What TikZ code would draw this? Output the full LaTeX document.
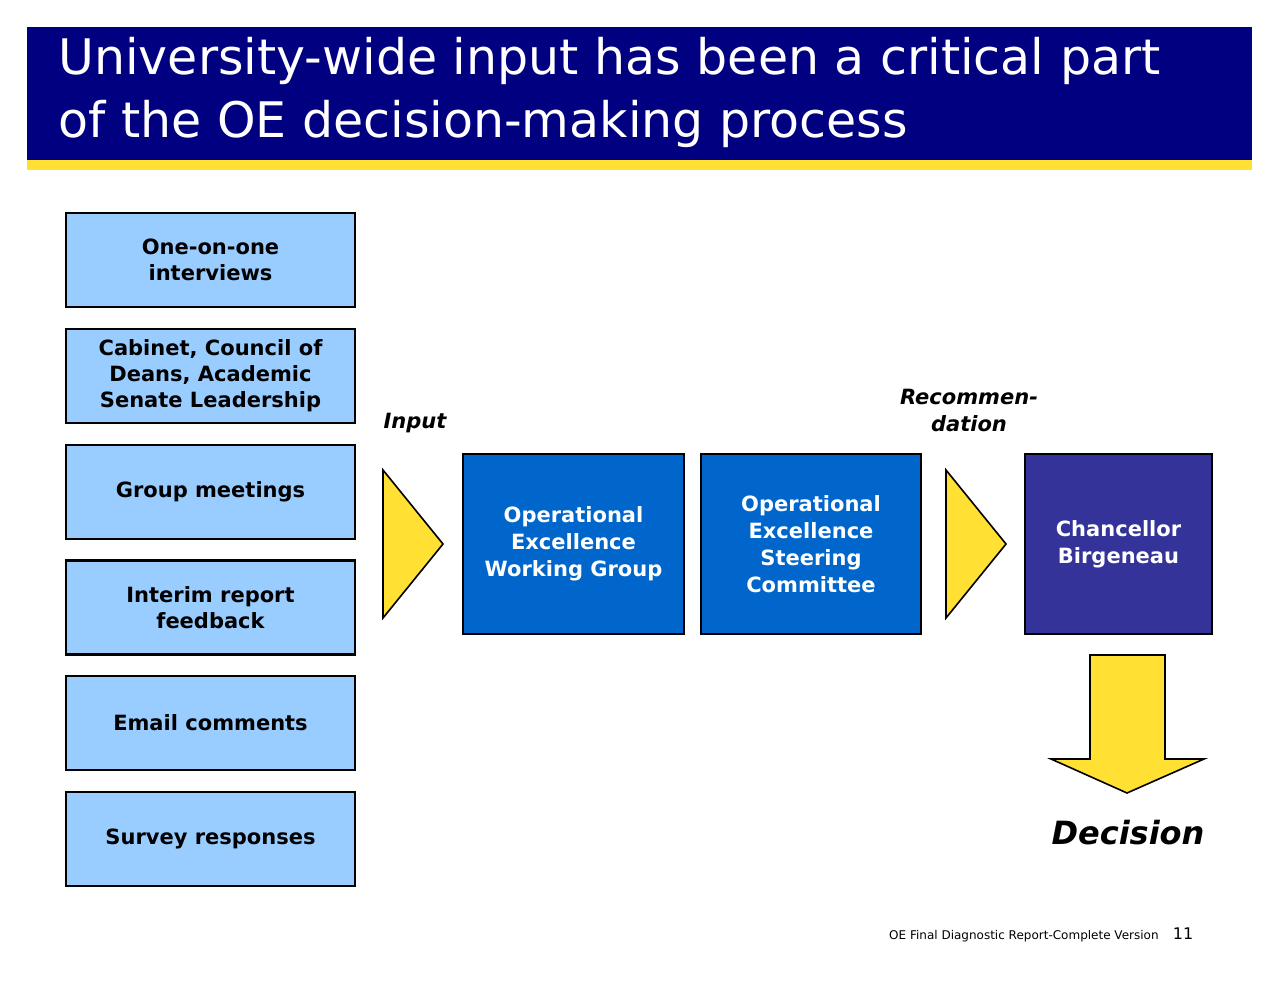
\documentclass[tikz,border=0pt]{standalone}
\usepackage{fontspec}
\setmainfont{DejaVu Sans}
\begin{document}
\begin{tikzpicture}[x=0.5pt,y=-0.5pt,
 lbox/.style={draw=black,line width=1.2pt,fill=lb,minimum width=144.5pt,minimum height=47pt,align=center,font=\fontsize{10.5}{13}\selectfont\bfseries,inner sep=0pt},
 dbox/.style={draw=black,line width=1pt,fill=#1,text=white,minimum height=90pt,align=center,font=\fontsize{10.5}{13.5}\selectfont\bfseries,inner sep=0pt},
 yel/.style={fill=yl,draw=black,line width=0.8pt}]
\definecolor{lb}{HTML}{99CCFF}\definecolor{nv}{HTML}{000080}\definecolor{yl}{HTML}{FFE033}
\definecolor{bl}{HTML}{0066CC}\definecolor{pu}{HTML}{333399}
\useasboundingbox (0,0) rectangle (1280,990);
\fill[white] (0,0) rectangle (1280,990);
\fill[nv] (27,27) rectangle (1252,160);
\fill[yl] (27,160) rectangle (1252,170);
\node[anchor=north west,text=white,align=left,font=\fontsize{24.5}{31.5}\selectfont,inner sep=0pt] (title) at (58,37) {University-wide input has been a critical part\\of the OE decision-making process};
\node[lbox] (b1) at (210.5,260) {One-on-one\\interviews};
\node[lbox] (b2) at (210.5,376) {Cabinet, Council of\\Deans, Academic\\Senate Leadership};
\node[lbox] (b3) at (210.5,492) {Group meetings};
\node[lbox] (b4) at (210.5,607.5) {Interim report\\feedback};
\node[lbox] (b5) at (210.5,723) {Email comments};
\node[lbox] (b6) at (210.5,839) {Survey responses};
\draw[yel] (383,470) -- (443,544) -- (383,618) -- cycle;
\draw[yel] (946,470) -- (1006,544) -- (946,618) -- cycle;
\node[dbox=bl,minimum width=110.5pt] (wg) at (573.5,544) {Operational\\Excellence\\Working Group};
\node[dbox=bl,minimum width=110pt] (sc) at (811,544) {Operational\\Excellence\\Steering\\Committee};
\node[dbox=pu,minimum width=93.5pt] (ch) at (1118.5,544) {Chancellor\\Birgeneau};
\draw[yel] (1090,655) -- (1165,655) -- (1165,759) -- (1204,759) -- (1127,793) -- (1051,759) -- (1090,759) -- cycle;
\node[font=\fontsize{10.5}{13}\selectfont\bfseries\itshape] (in) at (415,423) {Input};
\node[align=center,font=\fontsize{10.5}{13.5}\selectfont\bfseries\itshape] (rec) at (969,410) {Recommen-\\dation};
\node[font=\fontsize{16}{18}\selectfont\bfseries\itshape] (dec) at (1128,833) {Decision};
\node[anchor=base east,font=\fontsize{6}{7}\selectfont,inner sep=0pt] (ft) at (1159,939) {OE Final Diagnostic Report-Complete Version};
\node[anchor=base,font=\fontsize{8}{9}\selectfont,inner sep=0pt] (pg) at (1183,939) {11};
\end{tikzpicture}
\end{document}
